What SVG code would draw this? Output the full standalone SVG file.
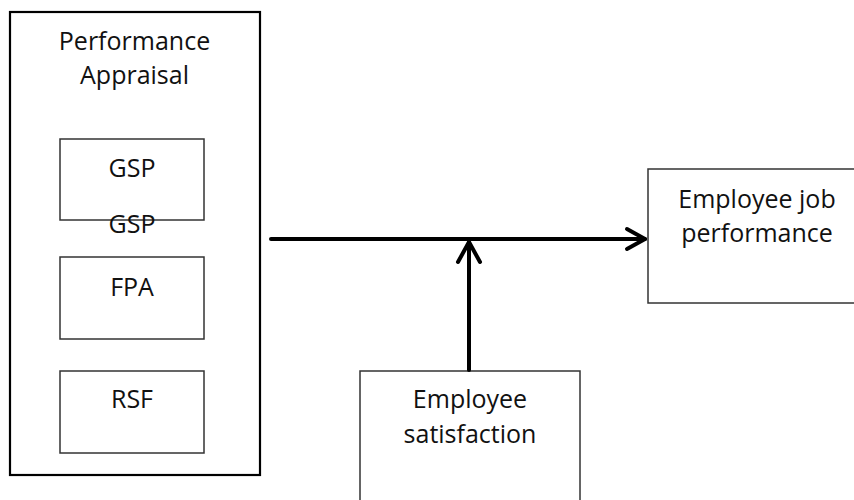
<svg xmlns="http://www.w3.org/2000/svg" width="854" height="500" viewBox="0 0 854 500">
<style>
.box{fill:#fff;stroke:#333;stroke-width:1.5}
.outer{fill:#fff;stroke:#000;stroke-width:2.2}
.t{font-family:"Open Sans","Noto Sans",sans-serif;font-size:25px;fill:#111;text-anchor:middle}
.conn{fill:none;stroke:#000;stroke-width:4;stroke-linecap:round;stroke-linejoin:round}
</style>
<rect width="854" height="500" fill="#fff"/>
<g id="performance-appraisal">
<rect class="outer" x="10" y="12" width="250" height="463"/>
<text class="t" x="134.5" y="50">Performance</text>
<text class="t" x="134.5" y="84">Appraisal</text>
</g>
<g id="gsp">
<rect class="box" x="60" y="139" width="144" height="81"/>
<text class="t" x="132" y="177">GSP</text>
</g>
<g id="gsp-label">
<text class="t" x="132" y="233">GSP</text>
</g>
<g id="fpa">
<rect class="box" x="60" y="257" width="144" height="82"/>
<text class="t" x="132" y="296">FPA</text>
</g>
<g id="rsf">
<rect class="box" x="60" y="371" width="144" height="82"/>
<text class="t" x="132" y="408">RSF</text>
</g>
<g id="employee-job-performance">
<rect class="box" x="648" y="169" width="220" height="134"/>
<text class="t" x="757" y="208">Employee job</text>
<text class="t" x="757" y="242">performance</text>
</g>
<g id="employee-satisfaction">
<rect class="box" x="360" y="371" width="220" height="140"/>
<text class="t" x="470" y="408">Employee</text>
<text class="t" x="470" y="443">satisfaction</text>
</g>
<g id="connectors">
<line class="conn" x1="271" y1="239" x2="645" y2="239"/>
<polyline class="conn" points="627,229 645,239 627,249"/>
<line class="conn" x1="469" y1="370" x2="469" y2="242"/>
<polyline class="conn" points="458,262 469,242 480,262"/>
</g>
</svg>
